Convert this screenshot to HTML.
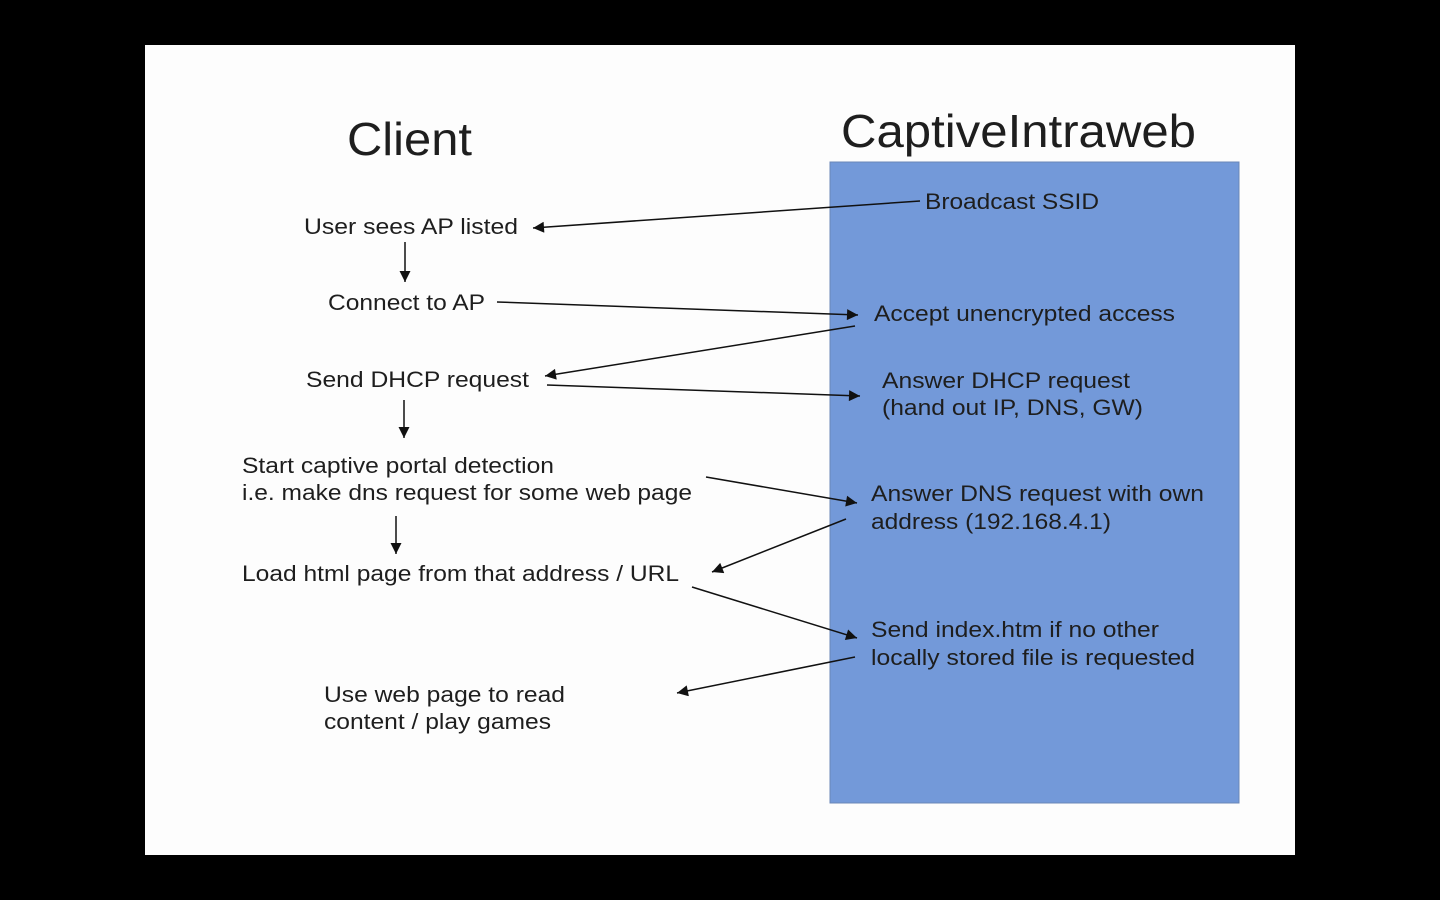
<!DOCTYPE html>
<html><head><meta charset="utf-8"><style>
html,body{margin:0;padding:0;background:#000;width:1440px;height:900px;overflow:hidden}
svg{display:block}
text{font-family:"Liberation Sans",sans-serif;fill:#1e1e1e}
</style></head><body>
<svg width="1440" height="900" viewBox="0 0 1440 900" xmlns="http://www.w3.org/2000/svg">
<defs><marker id="a" viewBox="0 0 10 10" refX="10" refY="5" markerWidth="17" markerHeight="11" markerUnits="userSpaceOnUse" orient="auto"><path d="M0,0L10,5L0,10z" fill="#111"/></marker></defs>
<rect x="0" y="0" width="1440" height="900" fill="#000"/>
<rect x="145" y="45" width="1150" height="810" fill="#fdfdfd"/>
<rect x="830" y="162" width="409" height="641" fill="#7399d9" stroke="#6a86b8" stroke-width="1"/>
<g lengthAdjust="spacingAndGlyphs">
<text x="347" y="155" font-size="46" textLength="125" lengthAdjust="spacingAndGlyphs">Client</text>
<text x="841" y="147" font-size="46" textLength="355" lengthAdjust="spacingAndGlyphs">CaptiveIntraweb</text>
</g>
<g font-size="22">
<text x="925" y="209" textLength="174" lengthAdjust="spacingAndGlyphs">Broadcast SSID</text>
<text x="304" y="234" textLength="214" lengthAdjust="spacingAndGlyphs">User sees AP listed</text>
<text x="328" y="310" textLength="157" lengthAdjust="spacingAndGlyphs">Connect to AP</text>
<text x="874" y="321" textLength="301" lengthAdjust="spacingAndGlyphs">Accept unencrypted access</text>
<text x="306" y="387" textLength="223" lengthAdjust="spacingAndGlyphs">Send DHCP request</text>
<text x="882" y="388" textLength="248" lengthAdjust="spacingAndGlyphs">Answer DHCP request</text>
<text x="882" y="415" textLength="261" lengthAdjust="spacingAndGlyphs">(hand out IP, DNS, GW)</text>
<text x="242" y="473" textLength="312" lengthAdjust="spacingAndGlyphs">Start captive portal detection</text>
<text x="242" y="500" textLength="450" lengthAdjust="spacingAndGlyphs">i.e. make dns request for some web page</text>
<text x="871" y="501" textLength="333" lengthAdjust="spacingAndGlyphs">Answer DNS request with own</text>
<text x="871" y="529" textLength="240" lengthAdjust="spacingAndGlyphs">address (192.168.4.1)</text>
<text x="242" y="581" textLength="437" lengthAdjust="spacingAndGlyphs">Load html page from that address / URL</text>
<text x="871" y="637" textLength="288" lengthAdjust="spacingAndGlyphs">Send index.htm if no other</text>
<text x="871" y="665" textLength="324" lengthAdjust="spacingAndGlyphs">locally stored file is requested</text>
<text x="324" y="702" textLength="241" lengthAdjust="spacingAndGlyphs">Use web page to read</text>
<text x="324" y="729" textLength="227" lengthAdjust="spacingAndGlyphs">content / play games</text>
</g>
<g stroke="#111" stroke-width="1.5" fill="none" marker-end="url(#a)">
<line x1="920" y1="201" x2="533" y2="228"/>
<line x1="405" y1="242" x2="405" y2="282"/>
<line x1="497" y1="302" x2="858" y2="315"/>
<line x1="855" y1="326" x2="545" y2="376"/>
<line x1="547" y1="385" x2="860" y2="396"/>
<line x1="404" y1="400" x2="404" y2="438"/>
<line x1="706" y1="477" x2="857" y2="503"/>
<line x1="396" y1="516" x2="396" y2="554"/>
<line x1="846" y1="519" x2="712" y2="572"/>
<line x1="692" y1="587" x2="857" y2="638"/>
<line x1="855" y1="657" x2="677" y2="693"/>
</g>
</svg>
</body></html>
